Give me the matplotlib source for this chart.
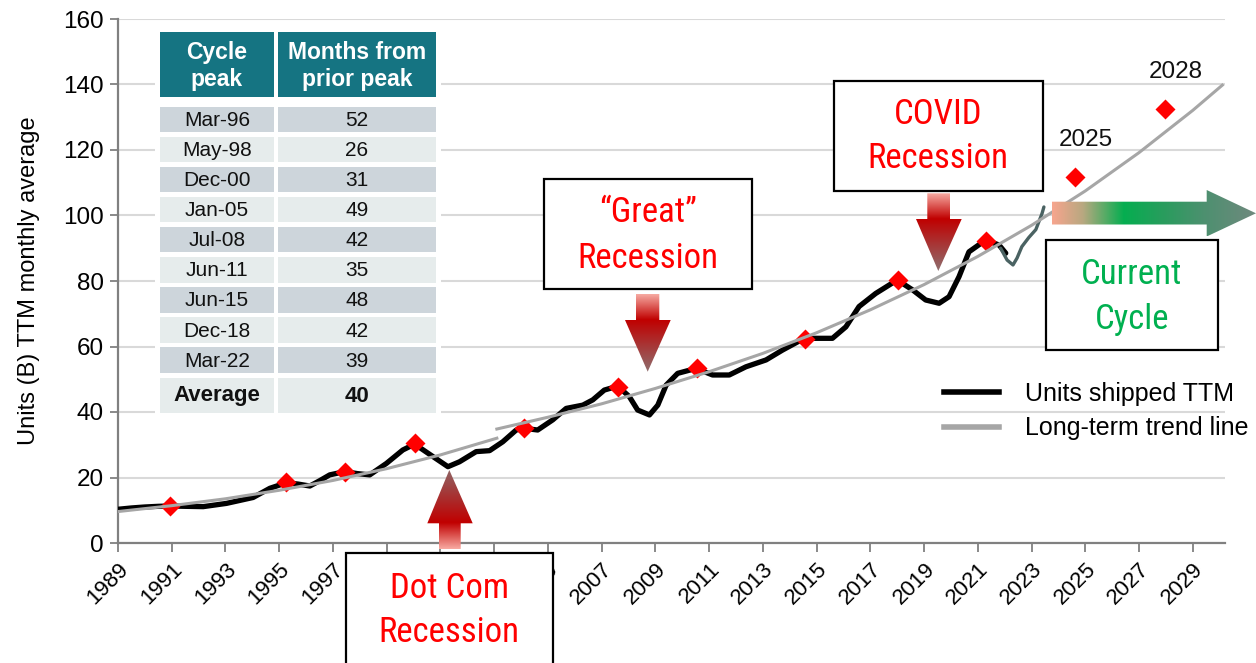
import matplotlib
matplotlib.use("Agg")
import matplotlib.pyplot as plt
import numpy as np
from matplotlib.colors import LinearSegmentedColormap
from matplotlib.patches import Polygon, Rectangle
from matplotlib.lines import Line2D

plt.rcParams['font.family'] = ['Liberation Sans', 'DejaVu Sans']

# Unidades enviadas TTM
ttm_years = [1989.0, 1989.5, 1990.0, 1990.5, 1990.93, 1991.5, 1992.17, 1993.04, 1994.03,
             1994.65, 1995.27, 1995.7, 1996.14, 1996.5, 1996.88, 1997.44, 1997.9, 1998.37,
             1998.99, 1999.6, 2000.04, 2000.72, 2001.28, 2001.71, 2002.33, 2002.83, 2003.32,
             2003.82, 2004.13, 2004.62, 2005.18, 2005.68, 2006.3, 2006.67, 2007.1, 2007.6,
             2008.03, 2008.34, 2008.78, 2009.09, 2009.4, 2009.83, 2010.51, 2011.13, 2011.75,
             2012.37, 2013.12, 2013.73, 2014.54, 2015.1, 2015.59, 2016.09, 2016.58, 2017.2,
             2018.0, 2018.57, 2019.06, 2019.56, 2019.93, 2020.3, 2020.67, 2021.29, 2021.79,
             2022.04]
ttm_units = [10.3, 10.7, 11.0, 11.2, 11.3, 11.2, 11.1, 12.1, 13.9,
             16.7, 18.4, 18.0, 17.4, 19.0, 20.8, 21.8, 21.2, 20.8,
             24.3, 28.4, 30.2, 26.4, 23.3, 24.8, 27.9, 28.2, 30.9,
             34.5, 35.0, 34.5, 37.6, 41.1, 42.1, 43.7, 46.7, 47.9,
             44.7, 40.6, 39.1, 42.1, 48.2, 51.8, 53.3, 51.3, 51.3,
             53.8, 55.9, 58.9, 62.5, 62.5, 62.5, 66.0, 72.2, 76.2,
             80.3, 77.3, 74.2, 73.2, 75.2, 81.3, 88.9, 92.5, 91.0,
             88.5]

# Trazo a mano del ciclo actual
hand_years = [2021.85, 2022.09, 2022.31, 2022.46, 2022.64, 2022.9, 2023.16, 2023.39, 2023.46]
hand_units = [90.0, 86.4, 84.9, 87.0, 90.5, 93.3, 95.7, 100.6, 102.6]

# Lineas de tendencia de largo plazo (dos tramos)
trend1_years = [1989.0, 1991.0, 1993.0, 1995.0, 1997.0, 1999.0, 2001.0, 2003.1]
trend1_units = [9.6, 11.4, 13.5, 16.1, 19.1, 22.7, 26.9, 32.0]
trend2_years = [2003.1, 2005, 2007, 2009, 2011, 2013, 2015, 2017, 2019, 2021, 2023,
                2025, 2027, 2029, 2030.1]
trend2_units = [34.8, 38.4, 42.5, 47.2, 52.3, 57.9, 64.2, 71.2, 78.9, 87.5, 97.0,
                107.5, 119.2, 132.1, 139.8]

# Picos de ciclo (diamantes rojos)
peak_years = [1990.93, 1995.27, 1997.46, 2000.04, 2004.1, 2007.62, 2010.55, 2014.55,
              2018.03, 2021.29, 2024.61, 2027.96]
peak_units = [11.3, 18.5, 21.6, 30.4, 35.0, 47.7, 53.3, 62.4, 80.3, 92.2, 111.7, 132.5]
forecast_labels = ['2025', '2028']

# Tabla
cycle_peaks = ['Mar-96', 'May-98', 'Dec-00', 'Jan-05', 'Jul-08', 'Jun-11', 'Jun-15',
               'Dec-18', 'Mar-22']
months_prior = [52, 26, 31, 49, 42, 35, 48, 42, 39]
avg_months = 40

year_ticks = list(range(1989, 2030, 2))
y_ticks = list(range(0, 161, 20))

box_font = ['Roboto Condensed', 'Liberation Sans Narrow', 'Roboto', 'DejaVu Sans']


def gradient_poly(ax, verts, stops, horizontal=False):
    xs = [v[0] for v in verts]
    ys = [v[1] for v in verts]
    cmap = LinearSegmentedColormap.from_list('g', stops)
    grad = np.linspace(0, 1, 256)
    img = grad[None, :] if horizontal else grad[:, None]
    im = ax.imshow(img, cmap=cmap, extent=(min(xs), max(xs), max(ys), min(ys)),
                   origin='upper', aspect='auto', interpolation='bilinear', zorder=5)
    poly = Polygon(verts, closed=True, facecolor='none', edgecolor='none')
    ax.add_patch(poly)
    im.set_clip_path(poly)


def text_box(ax, x0, y0, x1, y1, lines, color, fs=25):
    ax.add_patch(Rectangle((x0, y0), x1 - x0, y1 - y0, facecolor='white',
                           edgecolor='black', lw=1.6, zorder=6, clip_on=False))
    for (tx, ty), s in lines:
        ax.text(tx, ty, s, color=color, fontsize=fs, ha='center', va='center', zorder=7,
                family=box_font)


fig = plt.figure(figsize=(12.56, 6.63), dpi=100)
ax = fig.add_axes([118 / 1256, 1 - 543 / 663, (1225 - 118) / 1256, (543 - 19) / 663])

ax.plot(ttm_years, ttm_units, color='black', lw=3.8, solid_joinstyle='round',
        solid_capstyle='round', zorder=3)
ax.plot(hand_years, hand_units, color='#4a6262', lw=2.4, solid_joinstyle='round',
        solid_capstyle='round', zorder=3)
ax.plot(peak_years, peak_units, 'D', color='#ff0000', ms=10.5, mec='none', zorder=4)
ax.plot(trend1_years, trend1_units, color='#a6a6a6', lw=2.2, zorder=5)
ax.plot(trend2_years, trend2_units, color='#a6a6a6', lw=2.2, zorder=5)

for lab, xv, yv in zip(forecast_labels, peak_years[-2:], peak_units[-2:]):
    ax.annotate(lab, (xv, yv), xytext=(8, 27), textcoords='offset points',
                ha='center', va='center', fontsize=17.5, color='#111111')

ax.set_xlim(1989, 2030.2)
ax.set_ylim(0, 160)
ax.set_xticks(year_ticks)
ax.set_xticklabels([str(y) for y in year_ticks], rotation=45, ha='right',
                   rotation_mode='anchor', fontsize=16)
ax.set_yticks(y_ticks)
ax.tick_params(axis='y', labelsize=17.5, length=6, width=1.3, color='#808080', pad=4)
ax.tick_params(axis='x', length=6.5, width=1.3, color='#808080', pad=5)
ax.grid(axis='y', color='#d9d9d9', lw=1.5)
ax.set_axisbelow(True)
for side in ['top', 'right']:
    ax.spines[side].set_visible(False)
for side in ['left', 'bottom']:
    ax.spines[side].set_color('#808080')
    ax.spines[side].set_linewidth(1.6)
ax.set_ylabel('Units (B) TTM monthly average', fontsize=17, labelpad=17)

handles = [Line2D([], [], color='black', lw=4), Line2D([], [], color='#a6a6a6', lw=4)]
fig.legend(handles, ['Units shipped TTM', 'Long-term trend line'], loc='upper left',
           bbox_to_anchor=(944 / 1256, 1 - 382 / 663), frameon=False, fontsize=18,
           handlelength=2.2, handletextpad=1.05, labelspacing=0.42, borderpad=0,
           borderaxespad=0)

# Capa superior en pixeles para tabla, cuadros y flechas
ov = fig.add_axes([0, 0, 1, 1], facecolor='none')
ov.set_axis_off()

# tabla
ov.add_patch(Rectangle((155, 28), 286, 389, facecolor='white', edgecolor='none', zorder=1))
teal = '#157482'
ov.add_patch(Rectangle((160, 32), 114, 65, facecolor=teal, zorder=2))
ov.add_patch(Rectangle((278, 32), 158, 65, facecolor=teal, zorder=2))
ov.text(217, 66, 'Cycle\npeak', color='white', fontsize=16.5, weight='bold',
        ha='center', va='center', linespacing=1.2, zorder=3)
ov.text(357, 66, 'Months from\nprior peak', color='white', fontsize=16.5, weight='bold',
        ha='center', va='center', linespacing=1.2, zorder=3)
row_top = 106.5
row_h = 30.1
for i, (cp, mp) in enumerate(zip(cycle_peaks, months_prior)):
    y0 = row_top + i * row_h
    col = '#cdd5db' if i % 2 == 0 else '#e6ecec'
    ov.add_patch(Rectangle((160, y0), 114, row_h - 4.5, facecolor=col, zorder=2))
    ov.add_patch(Rectangle((278, y0), 158, row_h - 4.5, facecolor=col, zorder=2))
    ov.text(217, y0 + (row_h - 4.5) / 2 + 1, cp, fontsize=15, ha='center', va='center',
            color='#111111', zorder=3)
    ov.text(357, y0 + (row_h - 4.5) / 2 + 1, str(mp), fontsize=15, ha='center',
            va='center', color='#111111', zorder=3)
ov.add_patch(Rectangle((160, 377.7), 114, 35.6, facecolor='#e6ecec', zorder=2))
ov.add_patch(Rectangle((278, 377.7), 158, 35.6, facecolor='#e6ecec', zorder=2))
ov.text(217, 396, 'Average', fontsize=16, weight='bold', ha='center', va='center',
        color='#111111', zorder=3)
ov.text(357, 396, str(avg_months), fontsize=16, weight='bold', ha='center', va='center',
        color='#111111', zorder=3)

# flechas con degradado
gradient_poly(ov, [(449.3, 470), (472.7, 523.3), (460.7, 523.3), (460.7, 549.3),
                   (439, 549.3), (439, 523.3), (427.3, 523.3)],
              [(0, '#8f6464'), (0.67, '#c00000'), (1, '#f8aaa2')])
gradient_poly(ov, [(636, 294), (659.3, 294), (659.3, 320), (670.7, 320), (647.7, 371.7),
                   (625, 320), (636, 320)],
              [(0, '#f6aaa2'), (0.33, '#c00000'), (1, '#8f6e6e')])
gradient_poly(ov, [(927.3, 193.3), (950, 193.3), (950, 219), (961.7, 219), (938.3, 271),
                   (916, 219), (927.3, 219)],
              [(0, '#f6aaa2'), (0.33, '#c00000'), (1, '#8f6e6e')])
gradient_poly(ov, [(1051.7, 201.7), (1206.7, 201.7), (1206.7, 190), (1256, 213.3),
                   (1206.7, 236.5), (1206.7, 224.5), (1051.7, 224.5)],
              [(0, '#f7a58e'), (0.15, '#b8a880'), (0.35, '#05ae50'), (0.55, '#2a9c5e'),
               (0.75, '#4e9070'), (1, '#70897e')], horizontal=True)

# cuadros de texto
text_box(ov, 345.7, 553.3, 553.3, 700, [((449, 588), 'Dot Com'), ((449, 633), 'Recession')],
         '#ff0000')
text_box(ov, 544, 179.3, 751.7, 289.3, [((648, 213), '\u201cGreat\u201d'),
                                         ((648, 259), 'Recession')], '#ff0000')
text_box(ov, 834.3, 80.7, 1042.7, 190.7, [((938.3, 115), 'COVID'),
                                           ((938.3, 159), 'Recession')], '#ff0000')
text_box(ov, 1046, 240, 1217.7, 350, [((1131.7, 274), 'Current'),
                                       ((1131.7, 319), 'Cycle')], '#00b050')

ov.set_xlim(0, 1256)
ov.set_ylim(663, 0)

fig.savefig('out.png', dpi=100)
